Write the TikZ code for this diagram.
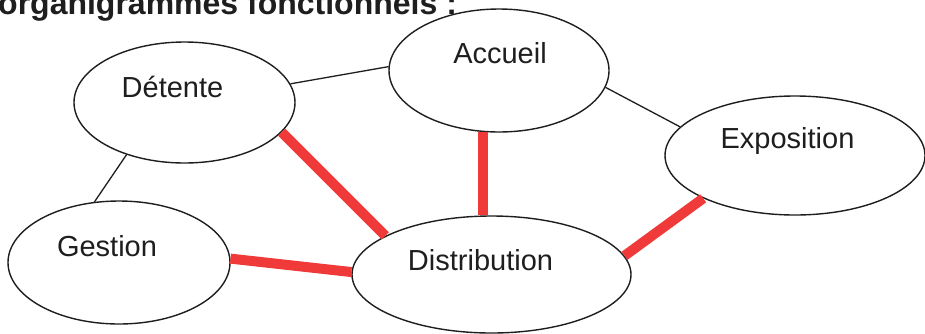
\documentclass[tikz,border=0pt]{standalone}
\usepackage{fontspec}
\setmainfont{Liberation Sans}
\usetikzlibrary{shapes.geometric}
\definecolor{linkred}{RGB}{240,58,58}
\definecolor{ink}{RGB}{30,30,30}
\tikzset{
  room/.style={ellipse, draw=ink, line width=1.4pt, inner sep=0pt, fill=white},
  lbl/.style={anchor=base, inner sep=0pt, text=ink, font=\fontsize{29}{34}\selectfont},
  weak/.style={draw=ink, line width=1.3pt},
  strong/.style={draw=linkred, line width=10pt},
}
\begin{document}
\begin{tikzpicture}[x=1pt,y=-1pt]
\useasboundingbox (0,0) rectangle (925,333);
\clip (0,0) rectangle (925,333);
\fill[white] (0,0) rectangle (925,333);
\node[anchor=base west, inner sep=0pt, text=ink, font=\bfseries\fontsize{32}{36}\selectfont] (title) at (-2,14) {organigrammes fonctionnels :};
% links (drawn first, ellipses on top)
\node[room, minimum width=221pt, minimum height=121pt] (det) at (184.5,102.5) {};
\node[room, minimum width=222pt, minimum height=123pt] (ges) at (119,262.5) {};
\node[room, minimum width=220pt, minimum height=123pt] (acc) at (499,70.5) {};
\node[room, minimum width=260pt, minimum height=119pt] (exp) at (795,155.5) {};
\node[room, minimum width=279pt, minimum height=117pt] (dis) at (491.5,274.5) {};
\draw[weak] (det.10) -- (acc.178);
\draw[weak] (acc.-9) -- (exp.166);
\draw[weak] (det.-138) -- (ges.112);
\draw[strong] (det.-17) -- (dis.160);
\draw[strong] (ges.2) -- (dis.179);
\draw[strong] (acc.-105) -- (acc.-105 |- dis.north);
\draw[strong] (exp.-155) -- (dis.8);
\node[lbl] (detT) at (172.5,97) {Détente};
\node[lbl] (gesT) at (107,256) {Gestion};
\node[lbl] (accT) at (500,63) {Accueil};
\node[lbl] (expT) at (787.5,148) {Exposition};
\node[lbl] (disT) at (480.5,270) {Distribution};
\end{tikzpicture}
\end{document}
